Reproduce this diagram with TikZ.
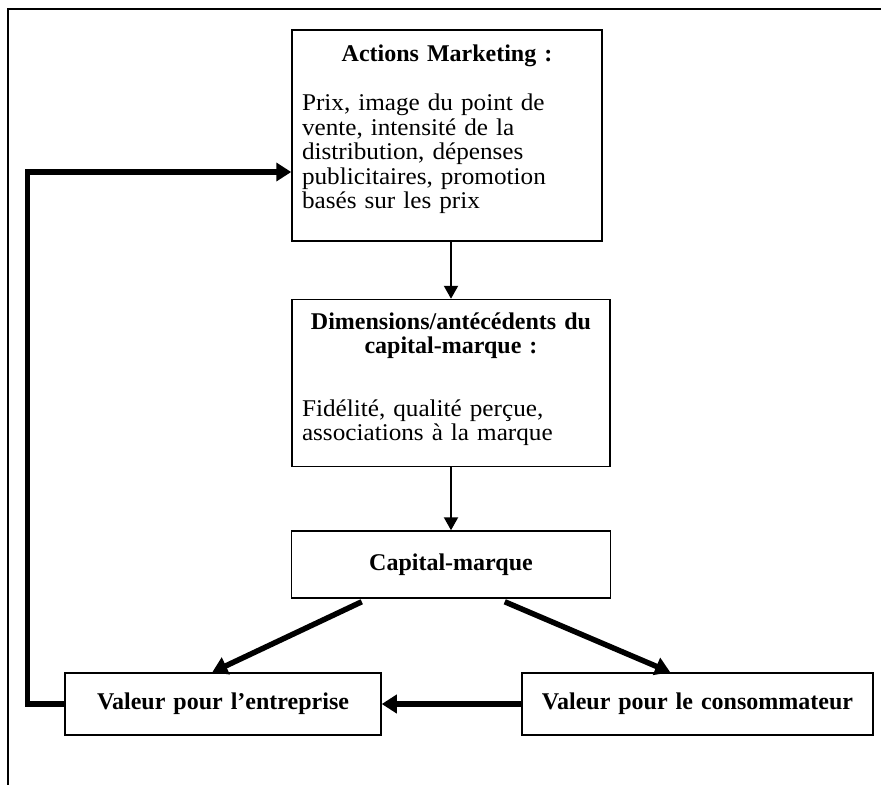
\documentclass[tikz,border=0pt]{standalone}
\usepackage{fontspec}
\setmainfont{Liberation Serif}
\newfontfamily\corpsfont[FakeStretch=1.05]{Liberation Serif}
\usetikzlibrary{arrows.meta}
\usetikzlibrary{positioning}

\newcommand\corps{\corpsfont\fontsize{24}{24.5}\selectfont}
\newcommand\basbox[1]{\par\nointerlineskip\vspace{#1}\null}

\begin{document}
\begin{tikzpicture}[
    x=1pt, y=-1pt,
    every node/.style={font=\fontsize{24}{24.5}\selectfont},
    boite/.style={draw, line width=1.5pt, inner xsep=10pt, inner ysep=0pt, align=left},
    fin/.style={draw, line width=2.2pt, -{Triangle[length=13pt, width=14pt]}},
    gros/.style={draw, line width=5.5pt, -{Triangle[length=15pt, width=18pt]}}
]

    % Frame
    \useasboundingbox (0,0) rectangle (881,785);
    \draw[line width=1.8pt] (881,9) -- (8,9) -- (8,785);

    % Level 1: Actions marketing
    \node[boite, text width=290pt, minimum height=211pt] (actions) at (447,135.5) {%
        {\centering\bfseries Actions Marketing :\par}\vspace{24.5pt}%
        \corps Prix, image du point de\\ vente, intensité de la\\ distribution, dépenses\\
        publicitaires, promotion\\ basés sur les prix\basbox{12pt}};

    % Level 2: Dimensions
    \node[boite, text width=298pt, minimum height=167pt, below=57pt of actions, xshift=4pt] (dimensions) {%
        {\centering\bfseries Dimensions/antécédents du\\ capital-marque :\par}\vspace{38pt}%
        \corps Fidélité, qualité perçue,\\ associations à la marque\basbox{8pt}};

    % Level 3: Capital-marque
    \node[boite, text width=299pt, minimum height=67pt, below=63pt of dimensions, align=center] (capital) {\bfseries Capital-marque};

    % Level 4: both values
    \node[boite, text width=296pt, minimum height=62pt, align=center] (entreprise) at (223,704) {\bfseries Valeur pour l’entreprise};
    \node[boite, text width=331pt, minimum height=62pt, align=center] (consommateur) at (697.5,704) {\bfseries Valeur pour le consommateur};

    \draw[fin] (dimensions.north |- actions.south) -- (dimensions.north);
    \draw[fin] (dimensions.south) -- (capital.north);
    \draw[gros] ([shift={(71pt,-3pt)}]capital.south west) -- ([xshift=148pt]entreprise.north west);
    \draw[gros] ([shift={(214pt,-3pt)}]capital.south west) -- ([xshift=149pt]consommateur.north west);
    \draw[gros] (consommateur) -- (entreprise);

    % loop back to the actions
    \draw[gros] (entreprise.west) -- ++(-37pt,0pt) |- ([yshift=-36.5pt]actions.west);

\end{tikzpicture}
\end{document}
